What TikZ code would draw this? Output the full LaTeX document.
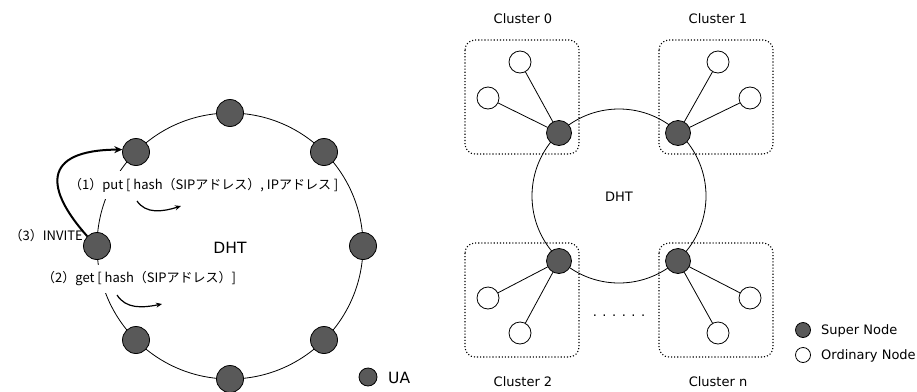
\documentclass[tikz,border=0pt]{standalone}
\usepackage{fontspec}
\setmainfont{Noto Sans CJK JP}
\newfontfamily\latinsans{DejaVu Sans}
\usetikzlibrary{arrows.meta}
\definecolor{nodegray}{HTML}{595959}
\begin{document}
\begin{tikzpicture}[x=1pt,y=-1pt,
  ua/.style={circle,draw,line width=0.8pt,fill=nodegray,minimum size=27pt,inner sep=0pt},
  supernode/.style={circle,draw,line width=0.8pt,fill=nodegray,minimum size=25pt,inner sep=0pt},
  ordnode/.style={circle,draw,line width=0.8pt,fill=white,minimum size=22pt,inner sep=0pt},
  legsuper/.style={circle,draw,line width=0.8pt,fill=nodegray,minimum size=15pt,inner sep=0pt},
  legord/.style={circle,draw,line width=0.8pt,fill=white,minimum size=15pt,inner sep=0pt},
  cluster/.style={draw,line width=1.1pt,dash pattern=on 1.1pt off 2pt,rounded corners=10pt},
  ringlbl/.style={fill=white,inner xsep=1pt,inner ysep=7pt,font=\fontsize{13}{15}\selectfont},
  txt/.style={inner sep=0pt,font=\latinsans\fontsize{13}{15}\selectfont},
  bigtxt/.style={inner sep=0pt,font=\latinsans\fontsize{15.5}{18}\selectfont},
  ring/.style={line width=0.8pt},
  smallarrow/.style={line width=1.2pt,-{Stealth[length=6pt,width=5pt]}},
  bigarrow/.style={line width=2pt,-{Stealth[length=8pt,width=7pt]}}
]
\useasboundingbox (0,0) rectangle (917,391);

% ---------------- left: DHT ring of UAs ----------------
\draw[ring] (230,246) circle[radius=133];
\node[bigtxt] (dhtl) at (230,248) {DHT};

\node[ringlbl,anchor=west] (put) at (68,185) {（1）put [ hash（SIPアドレス）, IPアドレス ]};
\node[ringlbl,anchor=west] (get) at (41,279) {（2）get [ hash（SIPアドレス）]};

\node[ua] (u1) at (230,113) {};
\node[ua] (u2) at (324,152) {};
\node[ua] (u3) at (363,246) {};
\node[ua] (u4) at (324,340) {};
\node[ua] (u5) at (230,379) {};
\node[ua] (u6) at (136,340) {};
\node[ua] (u7) at (97,246) {};
\node[ua] (u8) at (136,152) {};

\node[inner sep=0pt,font=\fontsize{13}{15}\selectfont,anchor=east] (inv) at (83,236) {（3）INVITE};

\draw[bigarrow] (u7.135) .. controls (46,190) and (40,150) .. (u8.170);

\coordinate (p1s) at (137,201);
\coordinate (p1e) at (181,206);
\draw[smallarrow] (p1s) .. controls (146,214) and (162,212) .. (p1e);
\coordinate (p2s) at (117,295);
\coordinate (p2e) at (162,304);
\draw[smallarrow] (p2s) .. controls (126,309) and (142,308) .. (p2e);

\node[legsuper,minimum size=18pt] (legua) at (368,377) {};
\node[bigtxt,anchor=west] (legual) at (388,378) {UA};

% ---------------- right: clustered DHT ----------------
\draw[cluster] (465,40) rectangle (579,154);
\draw[cluster] (659,40) rectangle (773,154);
\draw[cluster] (465,243) rectangle (579,357);
\draw[cluster] (659,243) rectangle (773,357);

\draw[ring] (619,196) circle[radius=87];
\node[txt] (dhtr) at (619,197) {DHT};

\node[supernode] (s0) at (559,133) {};
\node[supernode] (s1) at (678,133) {};
\node[supernode] (s2) at (559,261) {};
\node[supernode] (sn) at (678,261) {};

\node[ordnode] (o0a) at (520,62) {};
\node[ordnode] (o0b) at (488,98) {};
\node[ordnode] (o1a) at (718,62) {};
\node[ordnode] (o1b) at (750,98) {};
\node[ordnode] (o2a) at (488,298) {};
\node[ordnode] (o2b) at (520,333) {};
\node[ordnode] (ona) at (750,298) {};
\node[ordnode] (onb) at (718,333) {};

\draw[ring] (s0) -- (o0a) (s0) -- (o0b);
\draw[ring] (s1) -- (o1a) (s1) -- (o1b);
\draw[ring] (s2) -- (o2a) (s2) -- (o2b);
\draw[ring] (sn) -- (ona) (sn) -- (onb);

\node[txt] (c0) at (523,19) {Cluster 0};
\node[txt] (c1) at (718,19) {Cluster 1};
\node[txt] (c2) at (523,382) {Cluster 2};
\node[txt] (cn) at (718,382) {Cluster n};

\node[txt] (dots) at (619,316) {. . . . . .};

\node[legsuper] (lsup) at (803,330) {};
\node[txt,anchor=west] (lsupt) at (821,331) {Super Node};
\node[legord] (lord) at (803,355) {};
\node[txt,anchor=west] (lordt) at (821,356) {Ordinary Node};
\end{tikzpicture}
\end{document}
